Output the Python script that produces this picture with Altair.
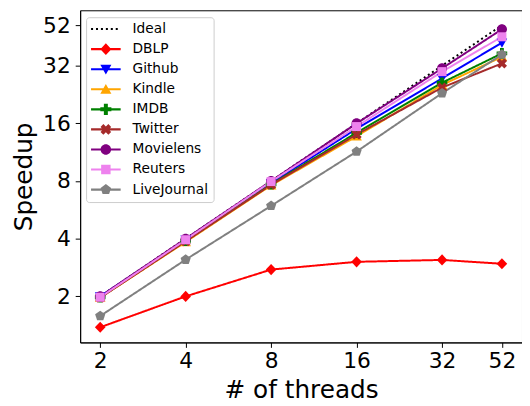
import math
import altair as alt
import pandas as pd

threads = [2, 4, 8, 16, 32, 52]
series_names = ["Ideal", "DBLP", "Github", "Kindle", "IMDB", "Twitter",
                "Movielens", "Reuters", "LiveJournal"]
ideal = [2, 4, 8, 16, 32, 52]
dblp = [1.38, 2.0, 2.76, 3.03, 3.10, 2.96]
github = [2.0, 3.95, 7.8, 15.0, 27.5, 42.2]
kindle = [1.97, 3.85, 7.6, 13.7, 25.4, 35.6]
imdb = [1.98, 3.9, 7.7, 14.3, 26.1, 37.1]
twitter = [1.97, 3.88, 7.65, 14.0, 24.6, 32.9]
movielens = [2.0, 4.0, 8.0, 16.0, 31.0, 49.6]
reuters = [1.98, 3.95, 7.95, 15.4, 29.8, 45.3]
livejournal = [1.58, 3.11, 5.94, 11.4, 23.0, 36.6]
tick_values = [2, 4, 8, 16, 32, 52]

colors = ["black", "red", "blue", "orange", "green", "brown",
          "purple", "violet", "gray"]

all_values = [ideal, dblp, github, kindle, imdb, twitter, movielens, reuters, livejournal]
rows = []
for i, (name, vals) in enumerate(zip(series_names, all_values)):
    for t, v in zip(threads, vals):
        rows.append({"threads": t, "speedup": v, "series": name, "idx": i})
df = pd.DataFrame(rows)
df_pts = df[df["series"] != "Ideal"]


# ---- marker geometry (unit half-extent ~1) ----
def poly(pts, k=1.0):
    return "M" + "L".join(f"{x * k:.3f},{y * k:.3f}" for x, y in pts) + "Z"


def circle(r):
    return f"M{-r:.3f},0A{r:.3f},{r:.3f} 0 1,1 {r:.3f},0A{r:.3f},{r:.3f} 0 1,1 {-r:.3f},0Z"


s = 0.36
plus = [(-s, -1), (s, -1), (s, -s), (1, -s), (1, s), (s, s), (s, 1), (-s, 1),
        (-s, s), (-1, s), (-1, -s), (-s, -s)]
c45 = 1 / math.sqrt(2)
xcross = [((x - y) * c45, (x + y) * c45) for x, y in plus]
pent = [(math.sin(2 * math.pi * k / 5), -math.cos(2 * math.pi * k / 5)) for k in range(5)]

marker_polys = {
    "DBLP": ("poly", [(0, -1.05), (1, 0), (0, 1.05), (-1, 0)]),
    "Github": ("poly", [(-1, -0.8), (1, -0.8), (0, 0.95)]),
    "Kindle": ("poly", [(0, -0.95), (1, 0.8), (-1, 0.8)]),
    "IMDB": ("poly", plus),
    "Twitter": ("poly", xcross),
    "Movielens": ("circle", 0.95),
    "Reuters": ("poly", [(-0.85, -0.85), (0.85, -0.85), (0.85, 0.85), (-0.85, 0.85)]),
    "LiveJournal": ("poly", pent),
}


def marker_path(name, k=1.0):
    kind, geo = marker_polys[name]
    if kind == "circle":
        return circle(geo * k)
    return poly(geo, k)


pt_names = series_names[1:]
pt_paths = [marker_path(n) for n in pt_names]

# legend symbols: a line segment with the marker on it (1 unit = 7 px)
line_rect = "M-2.14,-0.15H2.14V0.15H-2.14Z"
dots = "".join(f"M{x:.3f},-0.15H{x + 0.29:.3f}V0.15H{x:.3f}Z"
               for x in [-2.14 + 0.714 * i for i in range(6)])
legend_paths = [dots] + [line_rect + marker_path(n, 0.8) for n in pt_names]

xscale = alt.Scale(type="log", base=2, domain=[1.70, 61.2], nice=False)
yscale = alt.Scale(type="log", base=2, domain=[1.15, 62.3], nice=False)

xenc = alt.X("threads:Q", scale=xscale,
             axis=alt.Axis(values=tick_values, format="d", title="# of threads",
                           grid=False, labelFontSize=22, titleFontSize=25,
                           tickSize=5, labelPadding=3, titleY=56,
                           titleBaseline="alphabetic", labelFlush=False))
yenc = alt.Y("speedup:Q", scale=yscale,
             axis=alt.Axis(values=tick_values, format="d", title="Speedup",
                           grid=False, labelFontSize=22, titleFontSize=25,
                           tickSize=5, labelPadding=5, titleX=-57,
                           titleBaseline="middle", labelFlush=False))

color_scale = alt.Scale(domain=series_names, range=colors)

lines = alt.Chart(df).mark_line(strokeWidth=2).encode(
    x=xenc, y=yenc,
    color=alt.Color("series:N", scale=color_scale, legend=None),
    strokeDash=alt.StrokeDash("series:N",
                              scale=alt.Scale(domain=series_names,
                                              range=[[2, 3]] + [[1, 0]] * 8),
                              legend=None),
    order=alt.Order("threads:Q"),
)

points = alt.Chart(df_pts).mark_point(filled=True, size=115, opacity=1, strokeWidth=0).encode(
    x=xenc, y=yenc,
    color=alt.Color("series:N", scale=color_scale, legend=None),
    shape=alt.Shape("series:N", scale=alt.Scale(domain=pt_names, range=pt_paths), legend=None),
)

# legend-only layer: its scales have explicit domains, so it needs no drawn data
legend_layer = alt.Chart(df).transform_filter("false").mark_point(
    filled=True, opacity=1, strokeWidth=0
).encode(
    x=xenc, y=yenc,
    color=alt.Color("series:N", scale=color_scale,
                    legend=alt.Legend(title=None, orient="none", legendX=6, legendY=7,
                                      symbolSize=196, symbolStrokeWidth=0,
                                      symbolOpacity=1, symbolOffset=8,
                                      labelFontSize=13.9, labelOffset=20,
                                      rowPadding=6.3,
                                      fillColor="white", strokeColor="#cccccc",
                                      padding=5, cornerRadius=3, labelColor="black")),
    shape=alt.Shape("series:N", scale=alt.Scale(domain=series_names, range=legend_paths)),
)

chart = alt.layer(lines, points, legend_layer).resolve_scale(
    color="independent", shape="independent"
).properties(
    width=447, height=336,
    autosize=alt.AutoSizeParams(type="none"),
    padding={"left": 73, "top": 0, "right": 0, "bottom": 62},
).configure(
    font="DejaVu Sans",
).configure_view(
    stroke="black", strokeWidth=1,
).configure_axis(
    domainColor="black", tickColor="black", labelColor="black", titleColor="black",
    labelFont="DejaVu Sans", titleFont="DejaVu Sans", titleFontWeight="normal",
).configure_legend(
    labelFont="DejaVu Sans",
)

chart.save("out.html", embed_options={"renderer": "svg", "actions": False})
